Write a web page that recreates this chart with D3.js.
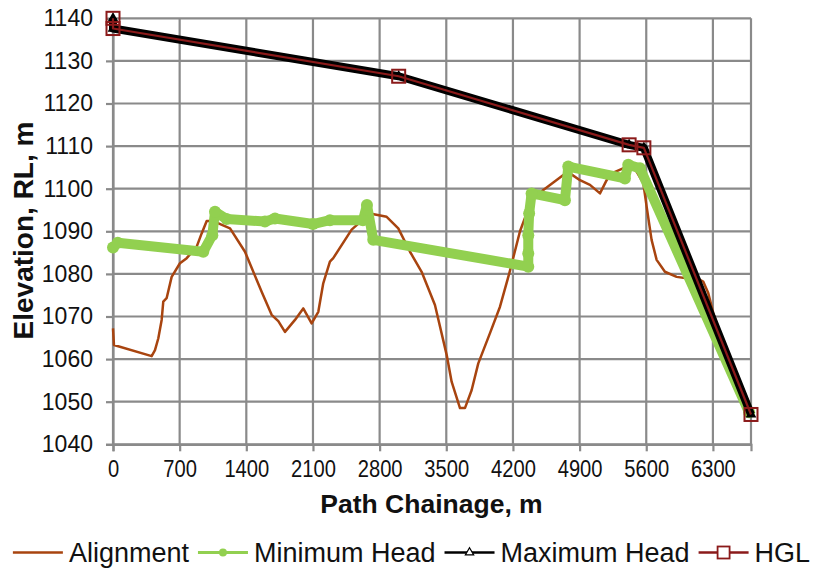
<!DOCTYPE html>
<html>
<head>
<meta charset="utf-8">
<script src="https://cdn.jsdelivr.net/npm/d3@7"></script>
<style>
  html, body { margin: 0; padding: 0; background: #fff; }
  svg { display: block; font-family: "Liberation Sans", Arial, Helvetica, sans-serif; }
</style>
</head>
<body>
<svg id="chart" width="814" height="569"></svg>
<script>
// Axis ticks
const xTicks = [0, 700, 1400, 2100, 2800, 3500, 4200, 4900, 5600, 6300];
const yTicks = [1040, 1050, 1060, 1070, 1080, 1090, 1100, 1110, 1120, 1130, 1140];

// Ground alignment along the pipeline (chainage m, elevation m RL)
const alignChainage = [0, 10, 406, 441, 476, 511, 528, 563, 616, 703, 774, 879, 931, 984, 1053,
  1229, 1386, 1561, 1666, 1736, 1806, 1911, 1998, 2086, 2156, 2208, 2278, 2313, 2506, 2698,
  2874, 2996, 3119, 3241, 3381, 3504, 3556, 3644, 3696, 3766, 3836, 3959, 4064, 4160, 4274,
  4396, 4519, 4729, 4799, 4904, 5009, 5114, 5184, 5236, 5429, 5499, 5569, 5604, 5656, 5709,
  5796, 5919, 6024, 6164, 6198, 6251, 6304, 6374, 6444, 6700];
const alignElevation = [1067.2, 1063.3, 1060.7, 1062.1, 1064.9, 1069.2, 1073.5, 1074.3, 1079.3, 1082.5, 1083.7, 1086.4, 1089.5, 1092.4, 1092.4,
  1090.7, 1085.2, 1075.8, 1070.4, 1068.9, 1066.4, 1069.2, 1071.9, 1068.4, 1071.1, 1077.8, 1082.9, 1083.7, 1090.4, 1094.2,
  1093.4, 1090.7, 1085.2, 1080.5, 1072.7, 1061.0, 1054.7, 1048.5, 1048.5, 1052.7, 1059.0, 1066.1, 1072.3, 1080.0, 1090.0,
  1097.3, 1099.7, 1103.2, 1103.6, 1102.0, 1100.9, 1098.9, 1102.0, 1103.6, 1105.5, 1104.0, 1101.3, 1095.8, 1088.0, 1083.3,
  1080.5, 1079.3, 1079.0, 1078.6, 1078.2, 1075.5, 1070.8, 1066.1, 1061.4, 1047.0];

// Minimum head
const minChainage = [0, 50, 948, 1043, 1071, 1193, 1596, 1701, 2100, 2278, 2625, 2667, 2733,
  4361, 4361, 4361, 4370, 4396, 4746, 4781, 5376, 5411, 5534, 6680];
const minHead = [1086.2, 1087.3, 1085.2, 1089.1, 1094.6, 1092.9, 1092.3, 1093.0, 1091.7, 1092.6, 1092.6, 1096.2, 1088.0,
  1081.7, 1084.8, 1089.1, 1094.2, 1098.9, 1097.3, 1105.2, 1102.4, 1105.6, 1104.8, 1047.5];

// Maximum head
const maxChainage = [0, 0, 3000, 5420, 5575, 6700];
const maxHead = [1140.0, 1137.6, 1126.4, 1110.3, 1109.6, 1047.0];

// Hydraulic grade line
const hglChainage = [0, 0, 3000, 5420, 5575, 6700];
const hglHead = [1140.0, 1137.6, 1126.4, 1110.3, 1109.6, 1047.0];

const seriesNames = ["Alignment", "Minimum Head", "Maximum Head", "HGL"];
const colAlign = "#A8440F", colMin = "#92D050", colMax = "#000000", colHgl = "#8B1A1A";
const gridCol = "#8A8A8A";

const svg = d3.select("#chart");
const x = d3.scaleLinear().domain([0, 6700]).range([113, 751]);
const y = d3.scaleLinear().domain([1040, 1140]).range([444.3, 18.3]);

const zip = (a, b) => a.map((v, i) => [v, b[i]]);
const line = d3.line().x(d => x(d[0])).y(d => y(d[1]));

// Gridlines
const grid = svg.append("g");
grid.selectAll("line.h").data(yTicks).join("line")
  .attr("x1", x(0)).attr("x2", x(6700))
  .attr("y1", d => y(d)).attr("y2", d => y(d))
  .attr("stroke", gridCol).attr("stroke-width", 2.2);
grid.selectAll("line.v").data(xTicks.concat([6700])).join("line")
  .attr("x1", d => x(d)).attr("x2", d => x(d))
  .attr("y1", y(1140)).attr("y2", y(1040))
  .attr("stroke", gridCol).attr("stroke-width", 2.2);

// Axes
const yAxis = svg.append("g").attr("transform", `translate(${x(0)},0)`)
  .call(d3.axisLeft(y).tickValues(yTicks).tickSize(7).tickPadding(13).tickFormat(d3.format("d")));
const xAxis = svg.append("g").attr("transform", `translate(0,${y(1040)})`)
  .call(d3.axisBottom(x).tickValues(xTicks).tickSize(7).tickPadding(9).tickFormat(d3.format("d")));
[yAxis, xAxis].forEach(a => {
  a.select(".domain").attr("stroke", gridCol).attr("stroke-width", 2.2);
  a.selectAll(".tick line").attr("stroke", gridCol).attr("stroke-width", 2.2);
  a.selectAll(".tick text").attr("fill", "#111").attr("font-family", "Liberation Sans, Arial, sans-serif");
});
yAxis.selectAll(".tick text").attr("font-size", 23);
xAxis.selectAll(".tick text").attr("font-size", 24).attr("transform", "scale(0.84,1)");

// Axis titles
svg.append("text")
  .attr("transform", "translate(33,230.5) rotate(-90)")
  .attr("text-anchor", "middle").attr("font-weight", "bold").attr("font-size", 28)
  .attr("fill", "#111").text("Elevation, RL, m");
svg.append("text")
  .attr("x", 431.5).attr("y", 513)
  .attr("text-anchor", "middle").attr("font-weight", "bold").attr("font-size", 26.5)
  .attr("fill", "#111").text("Path Chainage, m");

// Alignment
svg.append("path").datum(zip(alignChainage, alignElevation))
  .attr("d", line).attr("fill", "none").attr("stroke", colAlign)
  .attr("stroke-width", 2.5).attr("stroke-linejoin", "round");

// Minimum head
const minData = zip(minChainage, minHead);
svg.append("path").datum(minData)
  .attr("d", line).attr("fill", "none").attr("stroke", colMin)
  .attr("stroke-width", 10).attr("stroke-linejoin", "round").attr("stroke-linecap", "round");
svg.append("g").selectAll("circle").data(minData).join("circle")
  .attr("cx", d => x(d[0])).attr("cy", d => y(d[1])).attr("r", 6).attr("fill", colMin);

// Maximum head
const maxData = zip(maxChainage, maxHead);
svg.append("path").datum(maxData)
  .attr("d", line).attr("fill", "none").attr("stroke", colMax)
  .attr("stroke-width", 8).attr("stroke-linejoin", "round");
svg.append("g").selectAll("path").data(maxData).join("path")
  .attr("transform", d => `translate(${x(d[0])},${y(d[1])})`)
  .attr("d", d3.symbol(d3.symbolTriangle, 50)).attr("fill", colMax);

// HGL
const hglData = zip(hglChainage, hglHead);
svg.append("path").datum(hglData)
  .attr("d", line).attr("fill", "none").attr("stroke", colHgl)
  .attr("stroke-width", 2.2).attr("stroke-linejoin", "round");
svg.append("g").selectAll("rect").data(hglData).join("rect")
  .attr("x", d => x(d[0]) - 6.5).attr("y", d => y(d[1]) - 6.5)
  .attr("width", 13).attr("height", 13)
  .attr("fill", "none").attr("stroke", colHgl).attr("stroke-width", 2);

// Legend
const legend = svg.append("g");
const lineLen = 50, textGap = 6, itemGap = 9, legY = 552.5;
const items = legend.selectAll("g").data(seriesNames).join("g");
items.append("text").attr("class", "lt")
  .attr("font-size", 27).attr("fill", "#111").attr("y", 562)
  .text(d => d);
const widths = [];
items.select("text.lt").each(function () { widths.push(this.getComputedTextLength()); });
const total = d3.sum(widths) + seriesNames.length * (lineLen + textGap) + (seriesNames.length - 1) * itemGap;
let cursor = 411.5 - total / 2;
items.each(function (d, i) {
  const g = d3.select(this);
  const x0 = cursor;
  g.select("text.lt").attr("x", x0 + lineLen + textGap);
  const col = [colAlign, colMin, colMax, colHgl][i];
  g.append("line").attr("x1", x0).attr("x2", x0 + lineLen)
    .attr("y1", legY).attr("y2", legY)
    .attr("stroke", col).attr("stroke-width", i === 1 ? 3 : 2.5);
  const mx = x0 + lineLen / 2;
  if (i === 1) g.append("circle").attr("cx", mx).attr("cy", legY).attr("r", 4).attr("fill", colMin);
  if (i === 2) g.append("path").attr("transform", `translate(${mx},${legY})`)
    .attr("d", d3.symbol(d3.symbolTriangle, 30)).attr("fill", "#fff").attr("stroke", "#000").attr("stroke-width", 1.2);
  if (i === 3) g.append("rect").attr("x", mx - 6).attr("y", legY - 6).attr("width", 12).attr("height", 12)
    .attr("fill", "#fff").attr("stroke", colHgl).attr("stroke-width", 1.8);
  cursor += lineLen + textGap + widths[i] + itemGap;
});
</script>
</body>
</html>
